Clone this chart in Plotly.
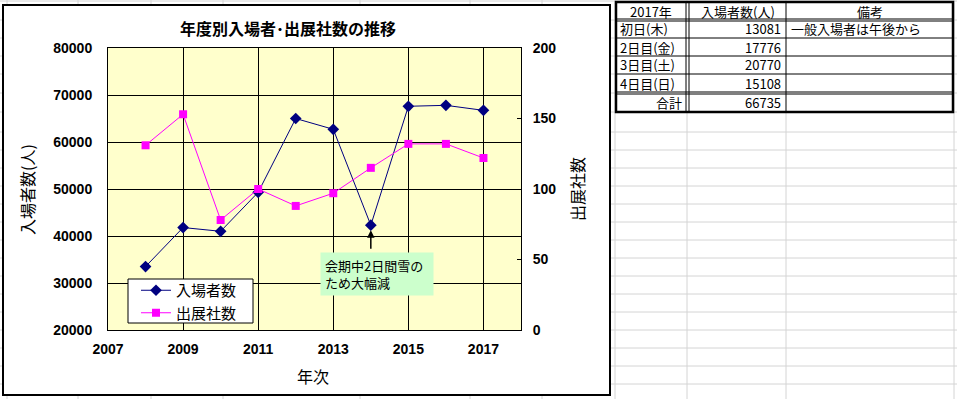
import plotly.graph_objects as go

# ---------------- data ----------------
years = [2008, 2009, 2010, 2011, 2012, 2013, 2014, 2015, 2016, 2017]
visitors = [33500, 41800, 41000, 49300, 65000, 62700, 42300, 67600, 67800, 66735]
exhibitors = [131, 153, 78, 100, 88, 97, 115, 132, 132, 122]

title_text = "年度別入場者･出展社数の推移"
series_names = ["入場者数", "出展社数"]
y1_title = "入場者数(人)"
y2_title = "出展社数"
x_title = "年次"
note_text = "会期中2日間雪の<br>ため大幅減"
note_year = 2014

table_header = ["2017年", "入場者数(人)", "備考"]
day_labels = ["初日(木)", "2日目(金)", "3日目(土)", "4日目(日)"]
day_counts = [13081, 17776, 20770, 15108]
day_notes = ["一般入場者は午後から", "", "", ""]
total_label = "合計"

# ---------------- geometry helpers ----------------
W, H = 957, 399
def fx(px):
    return px / W
def fy(py):
    return 1 - py / H

JP = "Noto Sans CJK JP"
NUM = "Liberation Sans, Arial"

plot_l, plot_r, plot_t, plot_b = 108, 521, 48, 330

fig = go.Figure()
fig.add_trace(go.Scatter(
    x=years, y=visitors, name=series_names[0], mode="lines+markers",
    line=dict(color="#000080", width=1),
    marker=dict(symbol="diamond", size=9, color="#000080"),
))
fig.add_trace(go.Scatter(
    x=years, y=exhibitors, name=series_names[1], mode="lines+markers", yaxis="y2",
    line=dict(color="#FF00FF", width=1),
    marker=dict(symbol="square", size=8, color="#FF00FF"),
))

shapes = []
grid_gray = "#D4D4D4"
# spreadsheet gridlines
col_lines = [7, 78, 151, 223, 360, 470, 542, 615, 687, 786, 954]
row_lines = [1, 20, 38, 56, 74, 93, 112, 132, 150, 168, 186, 204, 222, 240, 258,
             276, 294, 312, 330, 348, 366, 384]
for cx in col_lines:
    shapes.append(dict(type="line", xref="paper", yref="paper", layer="below",
                       x0=fx(cx), x1=fx(cx), y0=0, y1=1,
                       line=dict(color=grid_gray, width=1)))
for ry in row_lines:
    shapes.append(dict(type="line", xref="paper", yref="paper", layer="below",
                       x0=0, x1=1, y0=fy(ry), y1=fy(ry),
                       line=dict(color=grid_gray, width=1)))
# chart area (white with black border)
shapes.append(dict(type="rect", xref="paper", yref="paper", layer="below",
                   x0=fx(3), x1=fx(610), y0=fy(5), y1=fy(395),
                   fillcolor="white", line=dict(color="black", width=2)))
# plot area background
shapes.append(dict(type="rect", xref="paper", yref="paper", layer="below",
                   x0=fx(plot_l), x1=fx(plot_r), y0=fy(plot_t), y1=fy(plot_b),
                   fillcolor="#FFFFCC", line=dict(width=0)))
# legend frame
shapes.append(dict(type="rect", xref="paper", yref="paper", layer="above",
                   x0=fx(128), x1=fx(253), y0=fy(279), y1=fy(323),
                   fillcolor="white", line=dict(color="black", width=1)))

# table
tl, tr, tt, tb = 616, 953, 2, 112
c1a, c1b, c2 = 686, 689, 786
shapes.append(dict(type="rect", xref="paper", yref="paper", layer="below",
                   x0=fx(tl), x1=fx(tr), y0=fy(tt), y1=fy(tb),
                   fillcolor="white", line=dict(width=0)))
def hline(y, x0=tl, x1=tr, w=1):
    shapes.append(dict(type="line", xref="paper", yref="paper", layer="above",
                       x0=fx(x0), x1=fx(x1), y0=fy(y), y1=fy(y),
                       line=dict(color="black", width=w)))
def vline(x, y0=tt, y1=tb, w=1):
    shapes.append(dict(type="line", xref="paper", yref="paper", layer="above",
                       x0=fx(x), x1=fx(x), y0=fy(y0), y1=fy(y1),
                       line=dict(color="black", width=w)))
hline(19); hline(21)
hline(38); hline(56); hline(74)
hline(92); hline(94)
vline(c1a); vline(c1b); vline(c2)
shapes.append(dict(type="rect", xref="paper", yref="paper", layer="above",
                   x0=fx(tl), x1=fx(tr), y0=fy(tt), y1=fy(tb),
                   line=dict(color="black", width=2.5)))

annotations = []
# title
annotations.append(dict(text="<b>" + title_text + "</b>", x=fx(288), y=fy(28),
                        xref="paper", yref="paper",
                        showarrow=False, font=dict(family=JP, size=16, color="black"),
                        xanchor="center", yanchor="middle"))
# axis titles
annotations.append(dict(text=y1_title, x=fx(27), y=fy(190), xref="paper", yref="paper",
                        showarrow=False, textangle=-90,
                        font=dict(family=JP, size=16, color="black"),
                        xanchor="center", yanchor="middle"))
annotations.append(dict(text=y2_title, x=fx(577), y=fy(189), xref="paper", yref="paper",
                        showarrow=False, textangle=-90,
                        font=dict(family=JP, size=16, color="black"),
                        xanchor="center", yanchor="middle"))
annotations.append(dict(text=x_title, x=fx(313), y=fy(376), xref="paper", yref="paper",
                        showarrow=False, font=dict(family=JP, size=16, color="black"),
                        xanchor="center", yanchor="middle"))
# note box
annotations.append(dict(text=note_text, x=fx(320), y=fy(252), xref="paper", yref="paper",
                        showarrow=False, align="left", xanchor="left", yanchor="top",
                        bgcolor="#CCFFCC", width=104, height=34, borderpad=4,
                        font=dict(family=JP, size=13, color="black")))
# arrow to the 2014 dip
note_idx = years.index(note_year)
annotations.append(dict(text="", x=note_year, y=visitors[note_idx], xref="x", yref="y",
                        showarrow=True, arrowhead=2, arrowsize=1, arrowwidth=1.5,
                        arrowcolor="black", ax=0, ay=25, standoff=5))

# table text
tfont = dict(family=JP, size=13, color="black")
def cell(text, x, y, anchor):
    annotations.append(dict(text=text, x=fx(x), y=fy(y), xref="paper", yref="paper",
                            showarrow=False, xanchor=anchor, yanchor="middle", font=tfont))
cell(table_header[0], (tl + c1a) / 2, 11, "center")
cell(table_header[1], (c1b + c2) / 2, 11, "center")
cell(table_header[2], (c2 + tr) / 2, 11, "center")
centers = [29, 47, 65, 83]
for lab, cnt, note, cy in zip(day_labels, day_counts, day_notes, centers):
    cell(lab, 618, cy, "left")
    cell(str(cnt), 783, cy, "right")
    if note:
        cell(note, 789, cy, "left")
cell(total_label, 684, 102, "right")
cell(str(sum(day_counts)), 783, 102, "right")

tickfont = dict(family=NUM, size=14, color="black", weight="bold")
fig.update_layout(
    template="none",
    width=W, height=H,
    margin=dict(l=0, r=0, t=0, b=0, pad=0, autoexpand=False),
    paper_bgcolor="white",
    plot_bgcolor="rgba(0,0,0,0)",
    showlegend=True,
    legend=dict(x=fx(136), y=fy(274), xanchor="left", yanchor="top",
                bgcolor="rgba(0,0,0,0)", borderwidth=0,
                font=dict(family=JP, size=15, color="black")),
    xaxis=dict(domain=[fx(plot_l), fx(plot_r)], range=[2007, 2018], automargin=False,
               tick0=2007, dtick=2, showgrid=True, gridcolor="black", gridwidth=1,
               showline=True, linecolor="black", linewidth=1, mirror=True,
               zeroline=False, ticks="", tickfont=tickfont, ticklabelstandoff=6),
    yaxis=dict(domain=[fy(plot_b), fy(plot_t)], range=[20000, 80000], automargin=False,
               dtick=10000, tickformat="d", showgrid=True, gridcolor="black", gridwidth=1,
               showline=True, linecolor="black", linewidth=1, mirror=True,
               zeroline=False, ticks="", tickfont=tickfont, ticklabelstandoff=12),
    yaxis2=dict(overlaying="y", side="right", anchor="x", range=[0, 200], dtick=50,
                automargin=False,
                showgrid=False, zeroline=False, showline=True, linecolor="black",
                linewidth=1,
                ticks="inside", ticklen=4, tickcolor="black",
                tickfont=tickfont, ticklabelstandoff=8),
    shapes=shapes,
    annotations=annotations,
)

fig.write_html("out.html", config={"displayModeBar": False},
               post_script="document.body.style.margin='0';")
